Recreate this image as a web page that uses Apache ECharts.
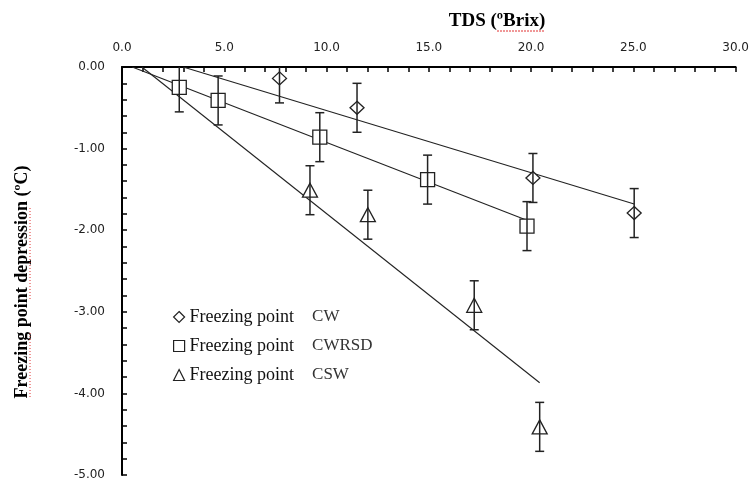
<!DOCTYPE html>
<html>
<head>
<meta charset="utf-8">
<script src="https://cdn.jsdelivr.net/npm/echarts@6/dist/echarts.min.js"></script>
<style>
  html, body { margin: 0; padding: 0; background: #fff; }
  #chart { width: 752px; height: 482px; }
</style>
</head>
<body>
<div id="chart"></div>
<script>
// Freezing point depression against total dissolved solids (TDS, ºBrix)
const seriesNames = ['CW', 'CWRSD', 'CSW'];

// CW
const cwTds = [7.70, 11.49, 20.09, 25.04];
const cwFp = [-0.14, -0.50, -1.36, -1.79];
const cwErr = [0.30, 0.30, 0.30, 0.30];
const cwFitTds = [2.99, 25.04];
const cwFitFp = [0.00, -1.68];

// CWRSD
const cwrsdTds = [2.80, 4.70, 9.67, 14.94, 19.80];
const cwrsdFp = [-0.25, -0.41, -0.86, -1.38, -1.95];
const cwrsdErr = [0.30, 0.30, 0.30, 0.30, 0.30];
const cwrsdFitTds = [0.50, 19.70];
const cwrsdFitFp = [0.00, -1.87];

// CSW
const cswTds = [9.19, 12.02, 17.22, 20.42];
const cswFp = [-1.51, -1.81, -2.92, -4.41];
const cswErr = [0.30, 0.30, 0.30, 0.30];
const cswFitTds = [0.97, 20.42];
const cswFitFp = [0.00, -3.87];

// Axis ticks
const xTicks = [0, 5, 10, 15, 20, 25, 30];
const yTicks = [0, -1, -2, -3, -4, -5];

const INK = '#222';
const pairs = (xs, ys) => xs.map((x, i) => [x, ys[i]]);
const errTriples = (xs, ys, es) => xs.map((x, i) => [x, ys[i], es[i]]);

function errorBarSeries(data) {
  return {
    type: 'custom',
    data: data,
    clip: true,
    z: 5,
    silent: true,
    renderItem: function (params, api) {
      const x = api.value(0), y = api.value(1), e = api.value(2);
      const hi = api.coord([x, y + e]);
      const lo = api.coord([x, y - e]);
      const cap = 4.5;
      const style = { stroke: INK, lineWidth: 1.5, fill: null };
      return {
        type: 'group',
        children: [
          { type: 'line', shape: { x1: hi[0], y1: hi[1], x2: lo[0], y2: lo[1] }, style: style },
          { type: 'line', shape: { x1: hi[0] - cap, y1: hi[1], x2: hi[0] + cap, y2: hi[1] }, style: style },
          { type: 'line', shape: { x1: lo[0] - cap, y1: lo[1], x2: lo[0] + cap, y2: lo[1] }, style: style }
        ]
      };
    }
  };
}

function fitSeries(xs, ys) {
  return {
    type: 'line',
    data: pairs(xs, ys),
    showSymbol: false,
    symbol: 'none',
    silent: true,
    z: 2,
    lineStyle: { color: INK, width: 1.1 }
  };
}

function markerSeries(name, symbol, size, xs, ys) {
  return {
    name: name,
    type: 'scatter',
    symbol: symbol,
    symbolSize: size,
    data: pairs(xs, ys),
    z: 3,
    itemStyle: { color: '#fff', borderColor: INK, borderWidth: 1.3, opacity: 1 }
  };
}

const chart = echarts.init(document.getElementById('chart'), null, { renderer: 'canvas' });

const option = {
  backgroundColor: '#fff',
  animation: false,
  grid: { left: 122, right: 13, top: 67, bottom: 7, containLabel: false },
  xAxis: {
    type: 'value',
    position: 'top',
    min: xTicks[0],
    max: xTicks[xTicks.length - 1],
    interval: 5,
    axisLine: { show: true, onZero: false, lineStyle: { color: '#000', width: 2 } },
    axisTick: { show: true, inside: true, length: 5, lineStyle: { color: '#000', width: 1.5 } },
    minorTick: { show: true, splitNumber: 5, length: 5, lineStyle: { color: '#000', width: 1.5 } },
    splitLine: { show: false },
    axisLabel: {
      margin: 13,
      color: INK,
      fontFamily: 'DejaVu Sans',
      fontSize: 12,
      formatter: v => v.toFixed(1)
    }
  },
  yAxis: {
    type: 'value',
    min: yTicks[yTicks.length - 1],
    max: yTicks[0],
    interval: 1,
    axisLine: { show: true, onZero: false, lineStyle: { color: '#000', width: 2 } },
    axisTick: { show: true, inside: true, length: 5, lineStyle: { color: '#000', width: 1.5 } },
    minorTick: { show: true, splitNumber: 5, length: 5, lineStyle: { color: '#000', width: 1.5 } },
    splitLine: { show: false },
    axisLabel: {
      margin: 17,
      color: INK,
      fontFamily: 'DejaVu Sans',
      fontSize: 12,
      formatter: v => v.toFixed(2)
    }
  },
  legend: {
    orient: 'vertical',
    left: 168,
    top: 303,
    itemWidth: 11,
    itemHeight: 11,
    itemGap: 11,
    selectedMode: false,
    itemStyle: { color: '#fff', borderColor: INK, borderWidth: 1.2 },
    data: [
      { name: seriesNames[0], icon: 'diamond' },
      { name: seriesNames[1], icon: 'rect' },
      { name: seriesNames[2], icon: 'triangle' }
    ],
    formatter: name => '{a|Freezing point}{g|}{b|' + name + '}',
    textStyle: {
      rich: {
        a: { fontFamily: 'Liberation Serif', fontSize: 18, color: '#111', lineHeight: 20 },
        g: { width: 18, lineHeight: 20 },
        b: { fontFamily: 'Liberation Serif', fontSize: 17, color: '#333', lineHeight: 20 }
      }
    }
  },
  graphic: [
    {
      type: 'text',
      x: 497, y: 21,
      style: {
        text: 'TDS (ºBrix)',
        align: 'center', verticalAlign: 'middle',
        fontFamily: 'Liberation Serif', fontWeight: 'bold', fontSize: 19, fill: '#000'
      }
    },
    {
      type: 'line',
      shape: { x1: 497, y1: 31, x2: 545, y2: 31 },
      style: { stroke: '#e03030', lineWidth: 1, lineDash: [2, 1] }
    },
    {
      type: 'text',
      x: 22, y: 282,
      rotation: Math.PI / 2,
      style: {
        text: 'Freezing point depression (ºC)',
        align: 'center', verticalAlign: 'middle',
        fontFamily: 'Liberation Serif', fontWeight: 'bold', fontSize: 18, fill: '#000'
      }
    },
    {
      type: 'line',
      shape: { x1: 30, y1: 333, x2: 30, y2: 397 },
      style: { stroke: '#e03030', lineWidth: 1, lineDash: [1, 2] }
    },
    {
      type: 'line',
      shape: { x1: 30, y1: 208, x2: 30, y2: 300 },
      style: { stroke: '#e03030', lineWidth: 1, lineDash: [1, 2] }
    }
  ],
  series: [
    fitSeries(cwFitTds, cwFitFp),
    fitSeries(cwrsdFitTds, cwrsdFitFp),
    fitSeries(cswFitTds, cswFitFp),
    markerSeries(seriesNames[0], 'diamond', [14, 13], cwTds, cwFp),
    markerSeries(seriesNames[1], 'rect', [14, 14], cwrsdTds, cwrsdFp),
    markerSeries(seriesNames[2], 'triangle', [15, 14], cswTds, cswFp),
    errorBarSeries(errTriples(cwTds, cwFp, cwErr)),
    errorBarSeries(errTriples(cwrsdTds, cwrsdFp, cwrsdErr)),
    errorBarSeries(errTriples(cswTds, cswFp, cswErr))
  ]
};

chart.setOption(option);
</script>
</body>
</html>
